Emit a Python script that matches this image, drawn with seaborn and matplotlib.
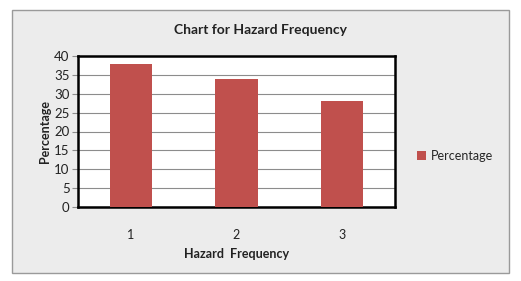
import matplotlib
matplotlib.use("Agg")
import matplotlib.pyplot as plt
import seaborn as sns
import pandas as pd
from matplotlib.patches import Rectangle

categories = ["1", "2", "3"]
values = [38, 34, 28]
yticks = [0, 5, 10, 15, 20, 25, 30, 35, 40]

sns.set_theme(style="white")
plt.rcParams['font.family'] = ['Lato', 'DejaVu Sans']

W, H = 521, 281
fig = plt.figure(figsize=(W / 100, H / 100), dpi=100, facecolor="white")
fig.patches.append(Rectangle((12 / W, 1 - 273 / H), (509 - 12) / W, (273 - 10) / H,
                             transform=fig.transFigure, facecolor="#ECECEC",
                             edgecolor="#9A9A9A", linewidth=1, zorder=-10))

ax = fig.add_axes([78 / W, 1 - 207 / H, (395 - 78) / W, (207 - 56) / H])
ax.set_zorder(5)
df = pd.DataFrame({"Hazard Frequency": categories, "Percentage": values})
sns.barplot(data=df, x="Hazard Frequency", y="Percentage", color="#C0504D",
            width=0.4, ax=ax, label="Percentage", saturation=1, zorder=3,
            linewidth=0)
ax.set_facecolor("white")
ax.set_ylim(0, 40)
ax.set_xlim(-0.5, 2.5)
ax.set_yticks(yticks)
ax.yaxis.grid(True, color="#8C8C8C", linewidth=0.8, zorder=0)
ax.set_axisbelow(True)
for s in ax.spines.values():
    s.set_color("black")
    s.set_linewidth(1.8)
ax.tick_params(axis="y", left=True, length=4, width=0.8, color="#8C8C8C",
               labelsize=9.5, pad=2, labelcolor="#222222")
ax.tick_params(axis="x", bottom=False, labelsize=9, pad=10, labelcolor="#222222")
ax.set_xlabel("Hazard  Frequency", fontsize=9, fontweight="bold", labelpad=5, color="#222222")
ax.set_ylabel("Percentage", fontsize=9, fontweight="bold", labelpad=2, color="#222222")
fig.text(0.5, 1 - 30 / H, "Chart for Hazard Frequency", ha="center", va="center",
         fontsize=10, fontweight="bold", color="#222222", zorder=6)
leg = ax.legend(loc="center left", bbox_to_anchor=(1.035, 0.34), frameon=False,
                fontsize=9, handlelength=0.7, handleheight=0.7, handletextpad=0.4)
fig.savefig("out.png", dpi=100, facecolor="white")
